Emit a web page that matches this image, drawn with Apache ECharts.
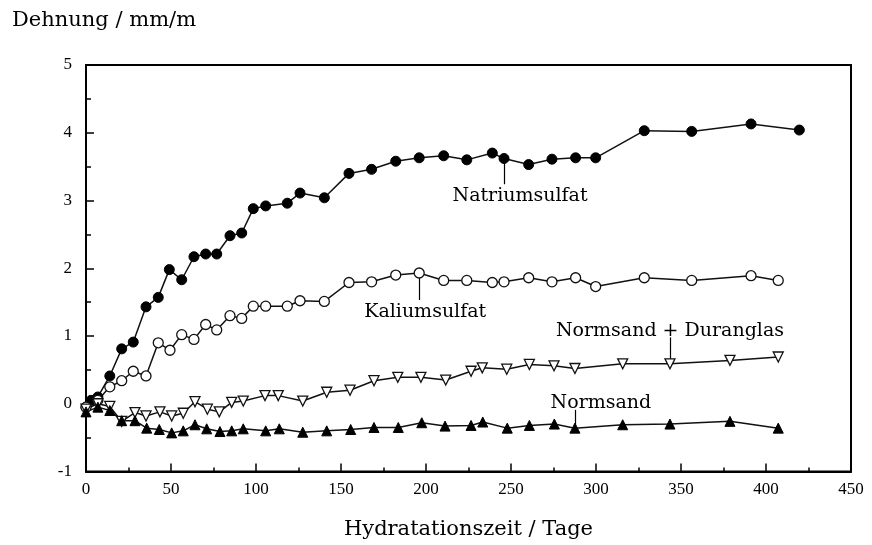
<!DOCTYPE html>
<html>
<head>
<meta charset="utf-8">
<script src="https://cdn.jsdelivr.net/npm/echarts@6/dist/echarts.min.js"></script>
<style>
html,body{margin:0;padding:0;background:#fff;}
#chart{width:872px;height:545px;}
</style>
</head>
<body>
<div id="chart"></div>
<script>
// Data: [day, strain mm/m]
const natriumsulfat = [
  [0,-0.05],[3,0.05],[7,0.1],[14,0.41],[21,0.81],[27.8,0.91],[35.3,1.43],[42.5,1.57],[49,1.98],[56.3,1.83],
  [63.5,2.17],[70.4,2.21],[76.9,2.21],[84.7,2.48],[91.6,2.52],[98.4,2.88],[105.7,2.92],[118.4,2.96],
  [125.9,3.11],[140.2,3.04],[154.7,3.40],[168,3.46],[182.2,3.58],[196,3.63],[210.4,3.66],[224,3.60],
  [239,3.70],[245.9,3.62],[260.4,3.53],[274.1,3.61],[288,3.63],[299.8,3.63],[328.4,4.03],[356.3,4.02],
  [391.2,4.13],[419.6,4.04]
];
const kaliumsulfat = [
  [0,-0.05],[7,0.05],[14,0.25],[21,0.34],[27.8,0.48],[35.3,0.41],[42.5,0.90],[49.4,0.79],[56.3,1.02],
  [63.5,0.95],[70.4,1.17],[76.9,1.09],[84.7,1.30],[91.6,1.26],[98.4,1.44],[105.7,1.44],[118.4,1.44],
  [125.9,1.52],[140.2,1.51],[154.7,1.79],[168,1.80],[182.2,1.90],[196,1.93],[210.4,1.82],[224,1.82],
  [239,1.79],[245.9,1.80],[260.4,1.86],[274.1,1.80],[288,1.86],[299.8,1.73],[328.4,1.86],[356.3,1.82],
  [391.2,1.89],[407.2,1.82]
];
const normsandDuranglas = [
  [0,-0.08],[7,0.0],[14,-0.04],[21,-0.26],[28.8,-0.13],[35.3,-0.18],[43.5,-0.12],[50.4,-0.18],[57.2,-0.14],
  [64.1,0.03],[71.4,-0.08],[78.4,-0.12],[85.7,0.02],[92.5,0.04],[105.3,0.12],[113.1,0.12],[127.5,0.04],
  [141.6,0.17],[155.3,0.20],[169.4,0.34],[183.4,0.39],[197,0.39],[211.6,0.35],[226.5,0.48],[233.1,0.53],
  [247.5,0.51],[260.8,0.58],[275.3,0.56],[287.6,0.52],[315.7,0.59],[343.5,0.59],[378.8,0.64],[407.2,0.69]
];
const normsand = [
  [0,-0.12],[7,-0.05],[14,-0.10],[21,-0.25],[28.8,-0.25],[35.7,-0.36],[43.1,-0.38],[50.4,-0.43],[57.2,-0.40],
  [64.1,-0.31],[71,-0.37],[78.8,-0.41],[85.7,-0.40],[92.5,-0.37],[105.7,-0.40],[113.7,-0.37],[127.5,-0.42],
  [141.6,-0.40],[155.7,-0.38],[169.4,-0.35],[183.7,-0.35],[197.5,-0.28],[211.2,-0.33],[226.5,-0.32],
  [233.4,-0.27],[247.8,-0.36],[260.8,-0.32],[275.5,-0.30],[287.6,-0.36],[315.7,-0.31],[343.5,-0.30],
  [378.8,-0.26],[407.2,-0.36]
];
const xTicks = [0,50,100,150,200,250,300,350,400,450];
const yTicks = [-1,0,1,2,3,4,5];
const seriesNames = ['Natriumsulfat','Kaliumsulfat','Normsand + Duranglas','Normsand'];
// leader lines: [x, from y, to y]
const leaders = [
  [245.9, 3.62, 3.24],
  [196, 1.93, 1.53],
  [343.5, 0.59, 0.98],
  [287.6, -0.36, -0.09]
];

const FONT = '"Liberation Serif", "DejaVu Serif", serif';
const WFONT = '"DejaVu Serif", "Liberation Serif", serif';
const chart = echarts.init(document.getElementById('chart'));

function leaderLine(i) {
  const l = leaders[i];
  return {
    silent: true,
    symbol: ['none','none'],
    label: {show:false},
    lineStyle: {color:'#000', width:1.2, type:'solid'},
    data: [[{coord:[l[0], l[1]]}, {coord:[l[0], l[2]]}]],
    z: 1
  };
}

const base = {
  type: 'line',
  lineStyle: {color:'#111', width:1.5},
  animation: false,
  z: 3
};

chart.setOption({
  animation: false,
  backgroundColor: '#fff',
  grid: {left: 86, right: 21, top: 65, bottom: 72, show: true, borderColor: '#000', borderWidth: 2},
  xAxis: {
    type: 'value', min: 0, max: 450, interval: 50,
    name: 'Hydratationszeit / Tage', nameLocation: 'middle', nameGap: 58,
    nameMoveOverlap: false,
    nameTextStyle: {fontFamily: WFONT, fontSize: 21, color: '#000', verticalAlign: 'middle'},
    axisLine: {onZero: false, lineStyle: {color:'#000', width: 2}},
    axisTick: {inside: true, length: 8, lineStyle: {color:'#000', width: 1.5}},
    minorTick: {show: true, splitNumber: 2, length: 4, lineStyle: {color:'#000', width: 1.5}},
    splitLine: {show: false},
    axisLabel: {fontFamily: FONT, fontSize: 17, color: '#000', margin: 10,
      formatter: v => xTicks.includes(v) ? String(v) : ''}
  },
  yAxis: {
    type: 'value', min: -1, max: 5, interval: 1,
    name: 'Dehnung / mm/m', nameLocation: 'end', nameGap: 34,
    nameMoveOverlap: false,
    nameTextStyle: {fontFamily: WFONT, fontSize: 21, color: '#000', align: 'left', padding: [0,0,0,-74]},
    axisLine: {onZero: false, lineStyle: {color:'#000', width: 2}},
    axisTick: {inside: true, length: 8, lineStyle: {color:'#000', width: 1.5}},
    minorTick: {show: true, splitNumber: 2, length: 5, lineStyle: {color:'#000', width: 1.5}},
    splitLine: {show: false},
    axisLabel: {fontFamily: FONT, fontSize: 17, color: '#000', margin: 14, padding: [0,0,12,0],
      formatter: v => yTicks.includes(v) ? String(v) : ''}
  },
  series: [
    Object.assign({}, base, {
      name: seriesNames[0], data: natriumsulfat,
      symbol: 'circle', symbolSize: 10,
      itemStyle: {color: '#000', borderColor: '#000'},
      markLine: leaderLine(0)
    }),
    Object.assign({}, base, {
      name: seriesNames[1], data: kaliumsulfat,
      symbol: 'circle', symbolSize: 10,
      itemStyle: {color: '#fff', borderColor: '#111', borderWidth: 1.3},
      markLine: leaderLine(1)
    }),
    Object.assign({}, base, {
      name: seriesNames[2], data: normsandDuranglas,
      symbol: 'triangle', symbolRotate: 180, symbolSize: 10,
      itemStyle: {color: '#fff', borderColor: '#111', borderWidth: 1.3},
      markLine: leaderLine(2)
    }),
    Object.assign({}, base, {
      name: seriesNames[3], data: normsand,
      symbol: 'triangle', symbolSize: 10,
      itemStyle: {color: '#000', borderColor: '#000'},
      markLine: leaderLine(3)
    })
  ]
});

// annotation texts anchored to the leader-line ends
const offsets = [
  {dx: 16, dy: 2, v: 'top'},
  {dx: 6, dy: 2, v: 'top'},
  {dx: 0, dy: 3, v: 'bottom'},
  {dx: 26, dy: 3, v: 'bottom'}
];
const graphics = leaders.map((l, i) => {
  const p = chart.convertToPixel({gridIndex: 0}, [l[0], l[2]]);
  const o = offsets[i];
  return {
    type: 'text',
    x: p[0] + o.dx, y: p[1] + o.dy,
    style: {text: seriesNames[i], font: '19px ' + WFONT, fill: '#000',
      textAlign: 'center', textVerticalAlign: o.v},
    z: 10
  };
});
chart.setOption({graphic: graphics});
</script>
</body>
</html>
